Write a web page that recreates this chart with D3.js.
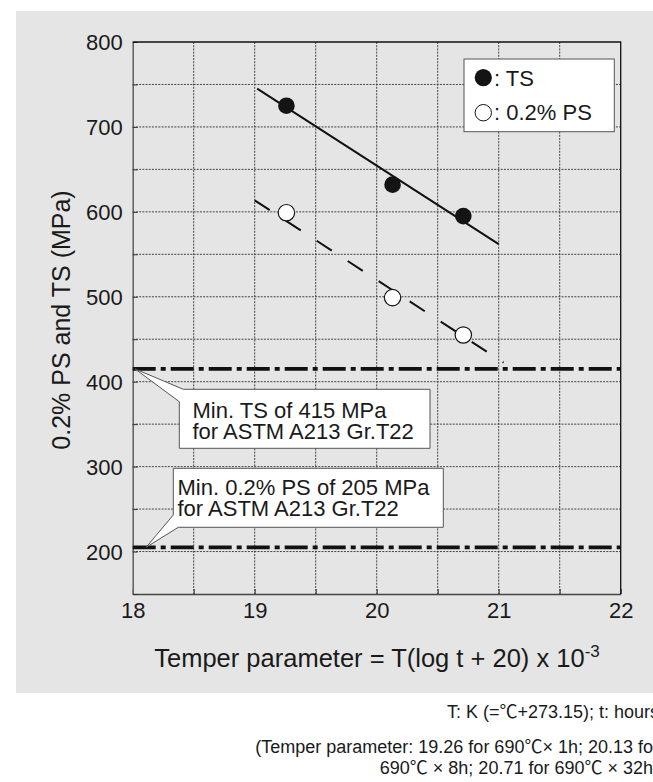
<!DOCTYPE html>
<html>
<head>
<meta charset="utf-8">
<script src="https://cdn.jsdelivr.net/npm/d3@7"></script>
<style>
  html, body { margin: 0; padding: 0; background: #ffffff; }
  svg { display: block; font-family: "Liberation Sans", Arial, Helvetica, sans-serif; }
</style>
</head>
<body>
<svg id="chart" width="653" height="782"></svg>
<script>
// Tempering results: temper parameter vs. strength
const tempParam = [19.26, 20.13, 20.71];
const tsValues = [725, 632, 595];
const psValues = [599, 499, 455];

// Fitted trend lines (end points)
const tsTrendX = [19.02, 21.0];
const tsTrendY = [745, 562];
const psTrendX = [19.0, 21.04];
const psTrendY = [613.5, 422.5];

// Specification minimums (ASTM A213 Gr.T22)
const minTS = 415;
const minPS = 205;

// Axis ticks and grid
const xTicks = [18, 19, 20, 21, 22];
const xGrid = [18.5, 19, 19.5, 20, 20.5, 21, 21.5];
const yTicks = [200, 300, 400, 500, 600, 700, 800];
const yGrid = [200, 250, 300, 350, 400, 450, 500, 550, 600, 650, 700, 750];

const legendLabels = [": TS", ": 0.2% PS"];
const calloutTS = ["Min. TS of 415 MPa", "for ASTM A213 Gr.T22"];
const calloutPS = ["Min. 0.2% PS of 205 MPa", "for ASTM A213 Gr.T22"];
const notes = [
  "T: K (=\u2103+273.15); t: hours",
  "(Temper parameter: 19.26 for 690\u2103\u00d7 1h; 20.13 for",
  "690\u2103 \u00d7 8h; 20.71 for 690\u2103 \u00d7 32h)"
];

const svg = d3.select("#chart");
const INK = "#1a1a1a";

const x = d3.scaleLinear().domain([18, 22]).range([132.7, 620.7]);
const y = d3.scaleLinear().domain([150, 800]).range([594, 42]);

// Grey panel behind the chart
svg.append("rect")
  .attr("x", 16).attr("y", 11)
  .attr("width", 653 - 16).attr("height", 682)
  .attr("fill", "#e5e5e5");

// Dotted grid
const grid = svg.append("g").attr("stroke", "#333").attr("stroke-width", 0.9)
  .attr("stroke-dasharray", "2,1.2");
grid.selectAll("line.gx").data(xGrid).join("line").attr("class", "gx")
  .attr("x1", d => x(d)).attr("x2", d => x(d))
  .attr("y1", y(800)).attr("y2", y(150));
grid.selectAll("line.gy").data(yGrid).join("line").attr("class", "gy")
  .attr("x1", x(18)).attr("x2", x(22))
  .attr("y1", d => y(d)).attr("y2", d => y(d));

// Axes with short inward ticks
const xAxis = d3.axisBottom(x)
  .tickValues(d3.range(18, 22.01, 0.5))
  .tickSizeInner(-5).tickSizeOuter(0).tickPadding(8)
  .tickFormat(d => Number.isInteger(d) ? d3.format("d")(d) : "");
const gx = svg.append("g").attr("transform", `translate(0,${y(150)})`).call(xAxis);

const yAxis = d3.axisLeft(y)
  .tickValues(d3.range(150, 801, 50))
  .tickSizeInner(-5).tickSizeOuter(0).tickPadding(10)
  .tickFormat(d => yTicks.includes(d) ? d : "");
const gy = svg.append("g").attr("transform", `translate(${x(18)},0)`).call(yAxis);

[gx, gy].forEach(g => {
  g.selectAll(".tick line").attr("stroke", "#333").attr("stroke-width", 1);
  g.selectAll(".tick text").attr("fill", INK)
    .style("font-size", "22px").style("font-family", "\"Liberation Sans\", Arial, sans-serif");
});
gx.select(".domain").attr("stroke", "#444").attr("stroke-width", 1.4);
gy.select(".domain").attr("stroke", "#666").attr("stroke-width", 1.6);
gy.selectAll(".tick text").attr("dy", "0.34em");

// Top and right frame
svg.append("path")
  .attr("d", `M${x(18)},${y(800)}H${x(22)}V${y(150)}`)
  .attr("fill", "none").attr("stroke", "#111").attr("stroke-width", 1.3);

// Specification lines
svg.selectAll("line.spec").data([minTS, minPS]).join("line").attr("class", "spec")
  .attr("x1", x(18)).attr("x2", x(22))
  .attr("y1", d => y(d)).attr("y2", d => y(d))
  .attr("stroke", "#111").attr("stroke-width", 3.8)
  .attr("stroke-dasharray", "23,5,5,5");

// Trend lines
const line = d3.line().x(d => x(d[0])).y(d => y(d[1]));
svg.append("path")
  .attr("d", line(d3.zip(tsTrendX, tsTrendY)))
  .attr("fill", "none").attr("stroke", "#111").attr("stroke-width", 2);
svg.append("path")
  .attr("d", line(d3.zip(psTrendX, psTrendY)))
  .attr("fill", "none").attr("stroke", "#111").attr("stroke-width", 2)
  .attr("stroke-dasharray", "18,19");

// Data points
svg.selectAll("circle.ts").data(d3.zip(tempParam, tsValues)).join("circle").attr("class", "ts")
  .attr("cx", d => x(d[0])).attr("cy", d => y(d[1])).attr("r", 8.3)
  .attr("fill", "#141414");
svg.selectAll("circle.ps").data(d3.zip(tempParam, psValues)).join("circle").attr("class", "ps")
  .attr("cx", d => x(d[0])).attr("cy", d => y(d[1])).attr("r", 8.2)
  .attr("fill", "#ffffff").attr("stroke", "#141414").attr("stroke-width", 1.2);

// Callout boxes pointing at the specification lines
function callout(apex, outline, lines, textX, baselines) {
  const p = d3.path();
  p.moveTo(apex[0], apex[1]);
  outline.forEach(c => p.lineTo(c[0], c[1]));
  p.closePath();
  svg.append("path").attr("d", p.toString())
    .attr("fill", "#ffffff").attr("stroke", "#555").attr("stroke-width", 1);
  svg.selectAll(null).data(lines).join("text")
    .attr("x", textX).attr("y", (d, i) => baselines[i])
    .attr("fill", INK).style("font-size", "22px")
    .text(d => d);
}

const a1 = [x(18.02), y(minTS)];
const b1 = { l: 179.3, t: 389.3, r: 430, b: 448.3 };
callout(a1,
  [[183.3, b1.t], [b1.r, b1.t], [b1.r, b1.b], [b1.l, b1.b], [b1.l, 401.7]],
  calloutTS, 192.5, [417.5, 438.8]);

const a2 = [x(18.11), y(minPS)];
const b2 = { l: 173.3, t: 468.3, r: 443.3, b: 527.3 };
callout(a2,
  [[b2.l, 515], [b2.l, b2.t], [b2.r, b2.t], [b2.r, b2.b], [178.3, b2.b]],
  calloutPS, 177.5, [494.5, 515.5]);

// Legend
const lg = svg.append("g");
lg.append("rect").attr("x", 464).attr("y", 59).attr("width", 150.3).attr("height", 72.7)
  .attr("fill", "#ffffff").attr("stroke", "#555").attr("stroke-width", 1);
lg.append("circle").attr("cx", 483.3).attr("cy", 77.7).attr("r", 8.6).attr("fill", "#141414");
lg.append("circle").attr("cx", 483.3).attr("cy", 112.7).attr("r", 8.2)
  .attr("fill", "#ffffff").attr("stroke", "#141414").attr("stroke-width", 1);
lg.selectAll("text").data(legendLabels).join("text")
  .attr("x", 494).attr("y", (d, i) => [85.5, 119.5][i])
  .attr("fill", INK).style("font-size", "22px")
  .text(d => d);

// Axis titles
svg.append("text")
  .attr("transform", `translate(70,${(y(150) + y(800)) / 2 + 2}) rotate(-90)`)
  .attr("text-anchor", "middle").attr("fill", INK).style("font-size", "25px")
  .text("0.2% PS and TS (MPa)");

const xt = svg.append("text")
  .attr("x", 377).attr("y", 667).attr("text-anchor", "middle")
  .attr("fill", INK).style("font-size", "25.5px");
xt.append("tspan").text("Temper parameter = T(log t + 20) x 10");
xt.append("tspan").attr("dy", -10).style("font-size", "17px").text("-3");

// Notes under the panel (degree-Celsius sign set in a CJK face)
const noteText = svg.selectAll("text.note").data(notes).join("text").attr("class", "note")
  .attr("x", 659).attr("y", (d, i) => [718, 753, 774][i])
  .attr("text-anchor", "end").attr("fill", INK).style("font-size", "18px");
noteText.each(function(d) {
  const t = d3.select(this);
  d.split(/(\u2103)/).filter(s => s.length).forEach(part => {
    const ts = t.append("tspan").text(part);
    if (part === "\u2103") ts.style("font-family", "\"Noto Sans CJK JP\", sans-serif");
  });
});
</script>
</body>
</html>
